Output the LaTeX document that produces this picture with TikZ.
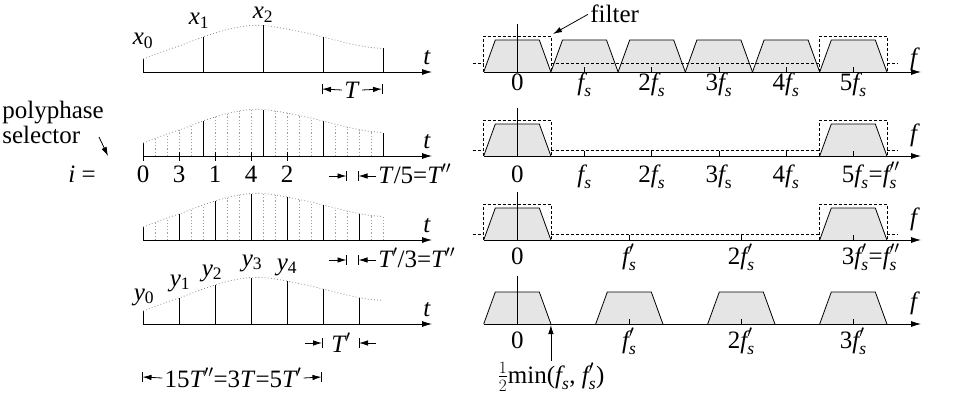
\documentclass[tikz,border=0pt]{standalone}
\usepackage{amsmath}
\usepackage{fontspec}
\setmainfont{Liberation Serif}
\usetikzlibrary{arrows.meta}
\newcommand\Fs{$\textit{f}_{\textit{s}}$}
\newcommand\Fsp{$\textit{f}_{\textit{s}}'$}
\newcommand\Fspp{$\textit{f}_{\textit{s}}''$}
\newcommand\envcoords{(143,-13) (155,-17.5) (167,-22) (179,-26) (191,-30.5) (203,-35) (215,-39) (227,-42.5) (239,-45) (251,-46.5) (263,-46.5) (275,-45) (287,-43) (299,-40.5) (311,-38) (323,-35) (335,-32) (347,-29) (359,-26.5) (371,-24.5) (383,-23.5)}
\newcommand\envplot[1]{\edef\tmpenv{\noexpand\draw[env,shift={(0,#1)}] plot[smooth] coordinates {\envcoords};}\tmpenv}
\newcommand\trap[2]{%
  \fill[trapfill] ({#1-33.6},#2) -- ({#1-22},{#2-32}) -- ({#1+22},{#2-32}) -- ({#1+33.6},#2) -- cycle;
  \draw ({#1-33.6},#2) -- ({#1-22},{#2-32}) -- ({#1+22},{#2-32}) -- ({#1+33.6},#2);}
\newcommand\filtbox[2]{\draw[filt] ({#1-33.6},#2) -- ({#1-33.6},{#2-36}) -- ({#1+33.6},{#2-36}) -- ({#1+33.6},#2);}
\newcommand\filtline[2]{%
  \draw[filt] (472.7,{#1-#2}) -- (483.7,{#1-#2});
  \draw[filt] (550.9,{#1-#2}) -- (819.7,{#1-#2});
  \draw[filt] (886.9,{#1-#2}) -- (898,{#1-#2});}
\begin{document}
\begin{tikzpicture}[x=1pt,y=-1pt,line width=0.8pt,
  every node/.style={inner sep=0pt,font=\fontsize{25}{27}\selectfont},
  ar/.style={-{Latex[length=9pt,width=5.5pt]}},
  axar/.style={-{Latex[length=10pt,width=6pt]}},
  env/.style={gray!85,line width=0.8pt,dash pattern=on 0.9pt off 2.2pt},
  fine/.style={gray!75,line width=0.7pt,dash pattern=on 1.2pt off 2pt},
  trapfill/.style={fill=black!10},
  filt/.style={line width=0.7pt,dash pattern=on 3pt off 2pt}]
\useasboundingbox (0,0) rectangle (961,396);

% ---------------- left: time axes
\foreach \b/\n in {72/a,156/b,240/c,324/d} {
  \draw[axar] (143,\b) -- (432,\b);
  \node[anchor=base] (t\n) at (427,\b-8) {\textit{t}};
}
% panel 1
\foreach \i/\h in {0/13,5/35,10/46.5,15/35,20/23.5}
  \draw (143+12*\i,72) -- (143+12*\i,72-\h);
\envplot{72}
\node[anchor=base] (x0) at (143,45) {\textit{x}\textsubscript{0}};
\node[anchor=base] (x1) at (199,25) {\textit{x}\textsubscript{1}};
\node[anchor=base] (x2) at (263,18.5) {\textit{x}\textsubscript{2}};
\draw (322,84) -- (322,94) (382,84) -- (382,94);
\node (Tlbl) at (352,90) {\textit{T}};
\draw[ar] (Tlbl.west) ++(-2,0) -- (322,89);
\draw[ar] (Tlbl.east) ++(2,0) -- (382,89);

% panel 2
\foreach \i/\h in {1/17.5,2/22,3/26,4/30.5,6/39,7/42.5,8/45,9/46.5,11/45,12/43,13/40.5,14/38,16/32,17/29,18/26.5,19/24.5}
  \draw[fine] (143+12*\i,156) -- (143+12*\i,156-\h);
\foreach \i/\h in {0/13,5/35,10/46.5,15/35,20/23.5}
  \draw (143+12*\i,156) -- (143+12*\i,156-\h);
\envplot{156}
\foreach \i/\l in {0/0,3/3,6/1,9/4,12/2} {
  \draw (143+12*\i,151.5) -- (143+12*\i,160.5);
  \node[anchor=base] (ph\i) at (143+12*\i,182) {\l};
}
\node[anchor=base east] (ieq) at (96,182) {\textit{i} =};
\node[anchor=base west] (poly) at (2,118) {polyphase};
\node[anchor=base west] (sel) at (2,143) {selector};
\coordinate (selTip) at (108,156);
\draw[ar] (99,137) -- (selTip);
\draw (346.5,171) -- (346.5,181) (358.5,171) -- (358.5,181);
\draw[ar] (329,176) -- (346.5,176);
\draw[ar] (376,176) -- (358.5,176);
\node[anchor=base west] (T5) at (378,183) {\textit{T}/5=$\textit{T}''$};

% panel 3
\foreach \i/\h in {1/17.5,2/22,4/30.5,5/35,7/42.5,8/45,10/46.5,11/45,13/40.5,14/38,16/32,17/29,19/24.5,20/23.5}
  \draw[fine] (143+12*\i,240) -- (143+12*\i,240-\h);
\foreach \i/\h in {0/13,3/26,6/39,9/46.5,12/43,15/35,18/26.5}
  \draw (143+12*\i,240) -- (143+12*\i,240-\h);
\envplot{240}
\draw (346.5,255) -- (346.5,265) (358.5,255) -- (358.5,265);
\draw[ar] (329,260) -- (346.5,260);
\draw[ar] (376,260) -- (358.5,260);
\node[anchor=base west] (T3) at (378,267) {$\textit{T}'$/3=$\textit{T}''$};

% panel 4
\foreach \i/\h in {0/13,3/26,6/39,9/46.5,12/43,15/35,18/26.5}
  \draw (143+12*\i,324) -- (143+12*\i,324-\h);
\envplot{324}
\node[anchor=base] (y0) at (144,300) {\textit{y}\textsubscript{0}};
\node[anchor=base] (y1) at (180,286) {\textit{y}\textsubscript{1}};
\node[anchor=base] (y2) at (212,276) {\textit{y}\textsubscript{2}};
\node[anchor=base] (y3) at (252,266) {\textit{y}\textsubscript{3}};
\node[anchor=base] (y4) at (287,270) {\textit{y}\textsubscript{4}};
\draw (322,338) -- (322,348) (359,338) -- (359,348);
\node (Tp) at (341,343) {$\textit{T}'$};
\draw[ar] (305,343) -- (322,343);
\draw[ar] (376,343) -- (359,343);
\draw (142.5,372) -- (142.5,382) (321.5,372) -- (321.5,382);
\node (Ttot) at (233,378) {15$\textit{T}''$=3\textit{T}=5$\textit{T}'$};
\draw[ar] (Ttot.west) ++(-2,0) -- (142.5,377);
\draw[ar] (Ttot.east) ++(2,0) -- (321.5,377);

% ---------------- right: spectra
% panel 1
\foreach \c in {517.3,584.5,651.7,718.9,786.1,853.3} {\trap{\c}{72}}
\filtbox{517.3}{72}
\filtbox{853.3}{72}
\filtline{72}{9}
% panel 2
\foreach \c in {517.3,853.3} {\trap{\c}{156}}
\filtbox{517.3}{156}
\filtbox{853.3}{156}
\filtline{156}{6}
% panel 3
\foreach \c in {517.3,853.3} {\trap{\c}{240}}
\filtbox{517.3}{240}
\filtbox{853.3}{240}
\filtline{240}{6}
% panel 4
\foreach \c in {517.3,629.3,741.3,853.3} {\trap{\c}{324}}

\foreach \b/\n in {72/a,156/b,240/c,324/d} {
  \draw[axar] (484,\b) -- (921,\b);
  \draw (517.3,\b) -- (517.3,\b-48);
}
\node[anchor=base] (fa) at (915,66) {\textit{f}};
\node[anchor=base] (fb) at (915,141) {\textit{f}};
\node[anchor=base] (fc) at (915,225) {\textit{f}};
\node[anchor=base] (fd) at (915,309) {\textit{f}};

\foreach \x in {584.5,651.7,718.9,786.1,853.3} {
  \draw (\x,72) -- (\x,67);
  \draw (\x,156) -- (\x,151);}
\foreach \x in {629.3,741.3,853.3} {
  \draw (\x,240) -- (\x,235);
  \draw (\x,324) -- (\x,319);}

% labels panel 1
\node[anchor=base] (za) at (517.3,90) {0};
\node[anchor=base] (fa1) at (584.5,90) {\Fs};
\node[anchor=base] (fa2) at (651.7,90) {2\Fs};
\node[anchor=base] (fa3) at (718.9,90) {3\Fs};
\node[anchor=base] (fa4) at (786.1,90) {4\Fs};
\node[anchor=base] (fa5) at (853.3,90) {5\Fs};
% labels panel 2
\node[anchor=base] (zb) at (517.3,182) {0};
\node[anchor=base] (fb1) at (584.5,182) {\Fs};
\node[anchor=base] (fb2) at (651.7,182) {2\Fs};
\node[anchor=base] (fb3) at (718.9,182) {3$\textit{f}_{\mathrm{s}}$};
\node[anchor=base] (fb4) at (786.1,182) {4\Fs};
\node[anchor=base west] (fb5) at (841.5,182) {5\Fs=\Fspp};
% labels panel 3
\node[anchor=base] (zc) at (517.3,264) {0};
\node[anchor=base] (fc1) at (629.3,264) {\Fsp};
\node[anchor=base] (fc2) at (741.3,264) {2\Fsp};
\node[anchor=base west] (fc3) at (841.5,264) {3\Fsp=\Fspp};
% labels panel 4
\node[anchor=base] (zd) at (517.3,348) {0};
\node[anchor=base] (fd1) at (629.3,348) {\Fsp};
\node[anchor=base] (fd2) at (741.3,348) {2\Fsp};
\node[anchor=base] (fd3) at (853.3,348) {3\Fsp};

% filter label
\node[anchor=base west] (filter) at (590,23) {filter};
\coordinate (fcorner) at (553,34);
\draw[ar] ([xshift=-2pt]filter.west) -- (fcorner);
% half min label
\coordinate (mtip) at (550.9,325);
\node[anchor=base] (minlbl) at (551,383) {$\frac{1}{2}$min(\Fs, \Fsp)};
\draw[ar] (mtip |- minlbl.north) ++(0,-1) -- (mtip);
\end{tikzpicture}
\end{document}
